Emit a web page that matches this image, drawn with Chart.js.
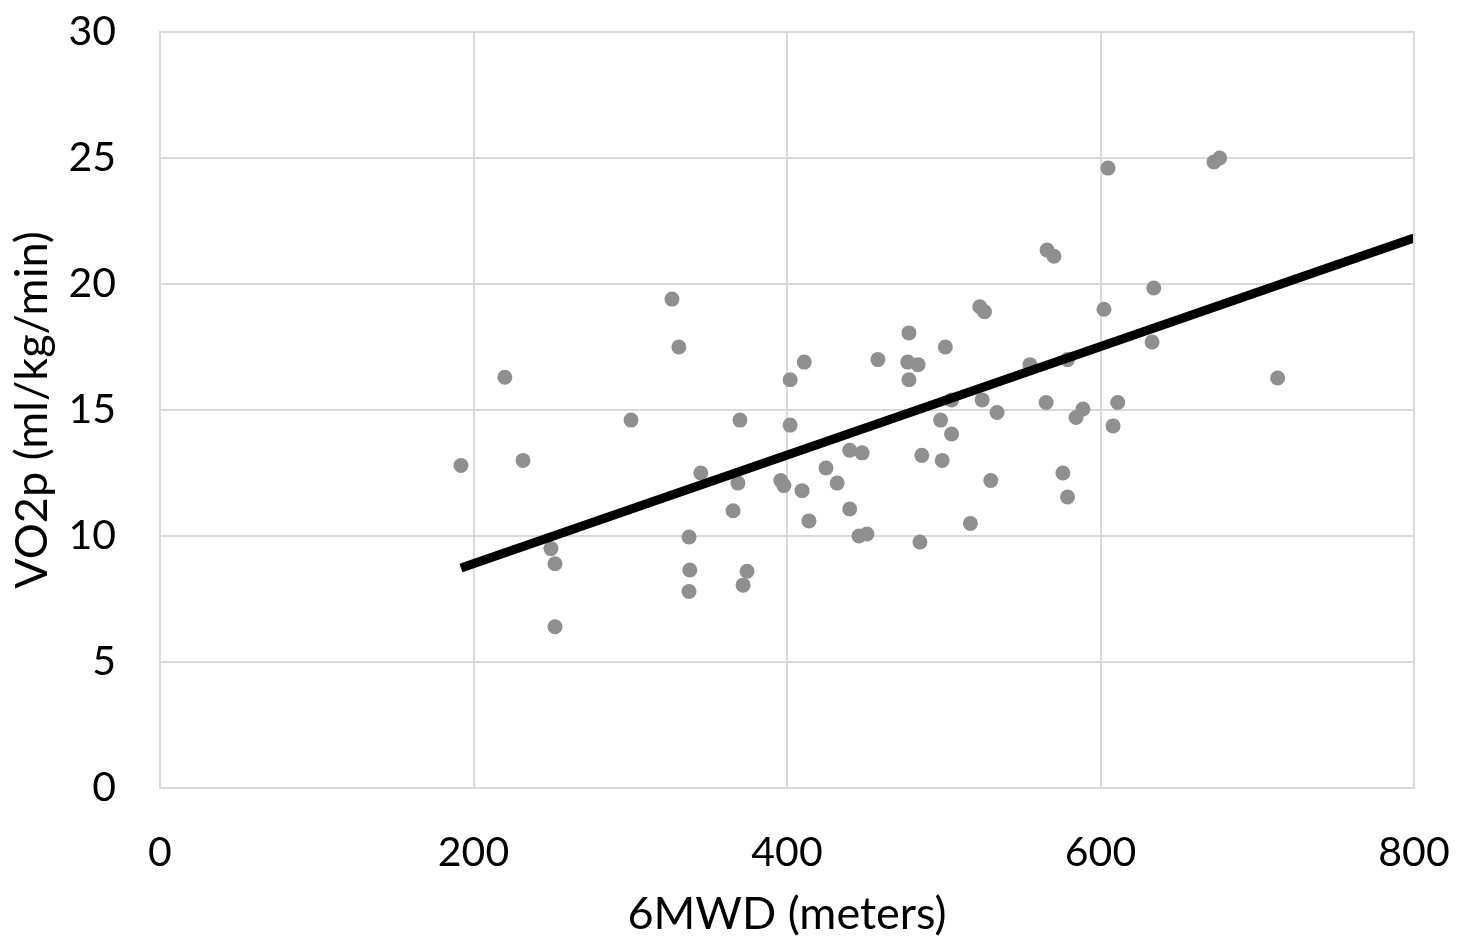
<!DOCTYPE html>
<html>
<head>
<meta charset="utf-8">
<script src="https://cdn.jsdelivr.net/npm/chart.js@4.4.0/dist/chart.umd.min.js"></script>
<style>
  html, body { margin: 0; padding: 0; background: #ffffff; }
  #wrap { width: 1468px; height: 939px; position: relative; }
</style>
</head>
<body>
<div id="wrap"><canvas id="c" width="1468" height="939"></canvas></div>
<script>
// 6MWD (meters)
const walkDistance = [192, 220, 231.6, 249.4, 252, 252, 300.5, 326.6, 331, 345, 337.5, 338, 337.5,
  370, 368.7, 365.6, 372, 374.5, 396, 398, 402, 402, 411, 409.6, 414, 424.9, 432, 440, 447.9,
  440, 445.9, 451, 458, 477.8, 477, 483.6, 477.8, 486, 484.8, 501, 498, 505, 505, 499, 517,
  523, 526, 524.5, 534, 530, 555, 565.9, 570.3, 565.3, 579, 576, 579, 584.4, 588.8, 602.2,
  604.8, 608, 611, 634, 632.9, 672.4, 676, 713];
// VO2p (ml/kg/min)
const vo2Peak = [12.8, 16.3, 13.0, 9.5, 8.9, 6.4, 14.6, 19.4, 17.5, 12.5, 9.96, 8.65, 7.8,
  14.6, 12.1, 11.0, 8.05, 8.6, 12.2, 12.0, 16.2, 14.4, 16.9, 11.8, 10.6, 12.7, 12.1, 13.4, 13.3,
  11.07, 10.0, 10.08, 17.0, 18.06, 16.9, 16.8, 16.2, 13.2, 9.76, 17.5, 14.6, 15.4, 14.05, 13.0, 10.5,
  19.1, 18.9, 15.4, 14.9, 12.2, 16.8, 21.35, 21.1, 15.3, 17.0, 12.5, 11.55, 14.7, 15.04, 19.0,
  24.6, 14.37, 15.3, 19.84, 17.7, 24.84, 25.0, 16.27];
// Linear trend line endpoints
const trendX = [192, 800];
const trendY = [8.73, 21.83];

const xTicks = [0, 200, 400, 600, 800];
const yTicks = [0, 5, 10, 15, 20, 25, 30];
const xTitle = '6MWD (meters)';
const yTitle = 'VO2p (ml/kg/min)';

const FONT = 'Lato, "Open Sans", sans-serif';
const scatterPts = walkDistance.map((x, i) => ({ x: x, y: vo2Peak[i] }));
const trendPts = trendX.map((x, i) => ({ x: x, y: trendY[i] }));

new Chart(document.getElementById('c'), {
  type: 'scatter',
  data: {
    datasets: [
      {
        type: 'line',
        data: trendPts,
        borderColor: '#000000',
        borderWidth: 9,
        pointRadius: 0,
        fill: false,
        order: 0
      },
      {
        data: scatterPts,
        backgroundColor: '#8f8f8f',
        borderColor: '#8f8f8f',
        borderWidth: 0,
        pointRadius: 7.5,
        order: 1
      }
    ]
  },
  options: {
    responsive: false,
    animation: false,
    devicePixelRatio: 1,
    layout: { padding: { top: 32, right: 54, left: 0, bottom: 0 } },
    plugins: { legend: { display: false }, tooltip: { enabled: false } },
    scales: {
      x: {
        type: 'linear',
        min: 0, max: 800,
        afterBuildTicks: s => { s.ticks = xTicks.map(v => ({ value: v })); },
        afterFit: s => { s.height = 151; s.paddingLeft = 0; s.paddingRight = 0; },
        grid: { color: '#d9d9d9', lineWidth: 2, drawTicks: false },
        border: { color: '#d9d9d9', width: 2 },
        ticks: { color: '#000', font: { family: FONT, size: 41 }, padding: 40 },
        title: { display: true, text: xTitle, color: '#000', font: { family: FONT, size: 45, lineHeight: 1.1 }, padding: { top: 6, bottom: 0 } }
      },
      y: {
        type: 'linear',
        min: 0, max: 30,
        afterBuildTicks: s => { s.ticks = yTicks.map(v => ({ value: v })); },
        afterFit: s => { s.width = 160; s.paddingTop = 0; s.paddingBottom = 0; },
        grid: { color: '#d9d9d9', lineWidth: 2, drawTicks: false },
        border: { color: '#d9d9d9', width: 2 },
        ticks: { color: '#000', font: { family: FONT, size: 41 }, padding: 44 },
        title: { display: true, text: yTitle, color: '#000', font: { family: FONT, size: 45, lineHeight: 1.1 }, padding: { top: 8, bottom: 0 } }
      }
    }
  },
  plugins: [{
    id: 'frame',
    afterDraw(chart) {
      const { ctx, chartArea: a } = chart;
      ctx.save();
      ctx.strokeStyle = '#d9d9d9';
      ctx.lineWidth = 2;
      ctx.strokeRect(a.left, a.top, a.right - a.left, a.bottom - a.top);
      ctx.restore();
    }
  }]
});
</script>
</body>
</html>
